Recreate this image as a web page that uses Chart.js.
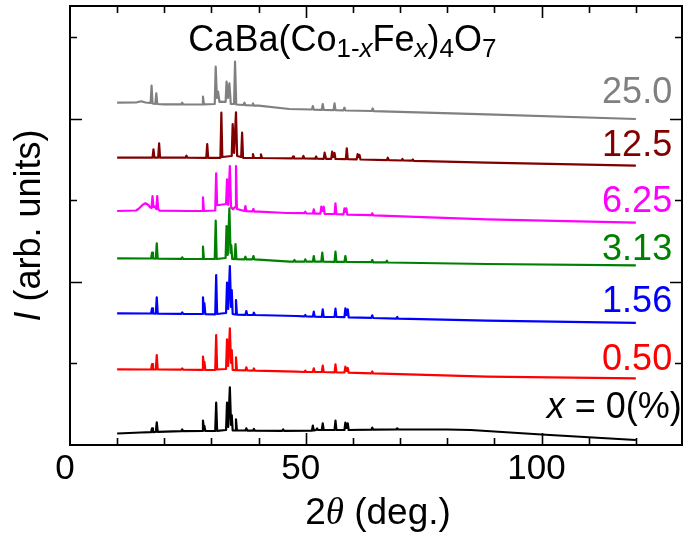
<!DOCTYPE html>
<html>
<head>
<meta charset="utf-8">
<script src="https://cdn.jsdelivr.net/npm/chart.js@4/dist/chart.umd.min.js"></script>
<style>
html,body{margin:0;padding:0;background:#fff;}
#wrap{position:relative;width:683px;height:535px;}
</style>
</head>
<body>
<div id="wrap"><canvas id="c"></canvas></div>
<script>
// ---- data: 2theta (deg.) vs intensity (arb. units, offset stacked) ----
const seriesNames = ["x = 0", "0.50", "1.56", "3.13", "6.25", "12.5", "25.0"];
const seriesColors = ["#000000", "#ff0000", "#0000ff", "#008000", "#ff00ff", "#800000", "#808080"];
const xTickLabels = [0, 50, 100];

const pattern_0 = [[10,11.5],[15,12.5],[17.2,12.8],[17.4,16.7],[17.6,12.9],[18.2,13],[18.4,22.7],[18.6,13.1],[23.6,13.8],[23.8,15.5],[24,13.8],[28,14],[28.2,24.3],[28.35,18],[28.5,19],[28.7,14],[30.8,14],[31,42.3],[31.2,14.2],[33.1,15],[33.3,42.3],[33.55,18],[33.9,57.7],[34.15,20],[34.3,30],[34.5,14.5],[35,14.5],[35.2,25.7],[35.4,14.5],[37.2,14.5],[37.4,16.7],[37.6,14.4],[38.8,14.4],[39,16],[39.2,14.3],[45,14.2],[45.2,15.5],[45.4,14.2],[51.3,14.3],[51.5,19.3],[51.7,14.5],[52.2,15],[52.4,16.5],[52.6,15],[53.4,15],[53.6,21.7],[53.8,15],[56.1,15],[56.3,24.3],[56.5,15],[58.2,15],[58.4,22.3],[58.65,17],[58.9,21.7],[59.1,15],[63.9,15.3],[64.1,17.3],[64.3,15.3],[69.2,15.5],[69.4,16.7],[69.6,15.5],[80,15.5],[85,15],[100,10.5],[120,5]];

const pattern_050 = [[10,75.7],[17.2,75.5],[17.4,81],[17.6,75.5],[18.2,75.5],[18.4,90],[18.6,75.5],[23.6,75.3],[23.8,76.7],[24,75.3],[28,75.1],[28.2,88.3],[28.35,82],[28.5,83],[28.7,75],[30.8,75],[31,110],[31.2,75.5],[33.1,76],[33.3,105.7],[33.55,79],[33.9,116.7],[34.15,82],[34.3,95],[34.5,75],[35,74.8],[35.2,87.7],[35.4,74.8],[37.2,74.6],[37.4,77.7],[37.6,74.5],[38.8,74.4],[39,76.5],[39.2,74.3],[48,73.3],[49.7,73],[49.9,74.3],[50.1,73],[51.5,73],[51.7,76.7],[51.9,73],[53.4,73],[53.6,79.3],[53.8,73],[56.1,72.7],[56.3,80.7],[56.5,72.7],[58.2,72.5],[58.4,78.3],[58.65,74],[58.9,77],[59.1,72.3],[63.9,71.7],[64.1,73.5],[64.3,71.6],[88.4,68.3],[120,66.6]];

const pattern_156 = [[10,131.7],[17.2,131.5],[17.4,136.7],[17.6,131.5],[18.2,131.4],[18.4,147.7],[18.6,131.4],[23.6,131.2],[23.8,132.5],[24,131.2],[28,131],[28.2,147.7],[28.35,138],[28.5,141.7],[28.7,130.8],[30.8,130.7],[31,170],[31.2,131],[33.1,132],[33.3,162.3],[33.55,136],[33.9,179],[34.15,138],[34.3,155],[34.5,131],[35,130.5],[35.2,145],[35.4,130.3],[37.2,130.2],[37.4,134],[37.6,130.1],[38.8,130],[39,132.3],[39.2,130],[48,129],[49.7,128.6],[49.9,130],[50.1,128.5],[51.5,128.4],[51.7,133.3],[51.9,128.4],[53.4,128.2],[53.6,135.7],[53.8,128.2],[56.1,128],[56.3,136.3],[56.5,128],[58.2,127.8],[58.4,136.7],[58.65,130],[58.9,135.7],[59.1,127.6],[63.9,127.1],[64.1,129.7],[64.3,127],[69.2,126.4],[69.4,128],[69.6,126.3],[88.4,124.3],[120,122.1]];

const pattern_313 = [[10,186.7],[17.2,186.5],[17.4,192.3],[17.6,186.5],[18.2,186.4],[18.4,201.7],[18.6,186.4],[23.6,186.2],[23.8,187.7],[24,186.2],[28,186],[28.2,198.3],[28.4,186],[30.7,186],[30.9,224.3],[31.1,186],[33,187],[33.2,219],[33.45,190],[33.8,236.7],[34.05,192],[34.2,200],[34.4,186],[34.9,185.8],[35.1,201],[35.3,185.8],[37,185.7],[37.2,188.3],[37.4,185.7],[38.7,185.7],[38.9,189],[39.1,185.6],[46.6,183.3],[47.4,183.4],[47.6,185],[47.8,183.4],[49.7,183.4],[49.9,185.7],[50.1,183.4],[51.5,183.4],[51.7,189],[51.9,183.4],[53.3,183.3],[53.5,192.3],[53.7,183.3],[56.1,183.2],[56.3,193.3],[56.5,183.2],[58.2,183.1],[58.4,189],[58.6,183.1],[63.9,182.8],[64.1,185],[64.3,182.7],[67,182.6],[67.2,184.3],[67.4,182.5],[88.4,181],[120,179.7]];

const pattern_625 = [[10,234],[14,234.5],[14.5,236],[15.5,240.5],[16,241.7],[16.6,240],[17,237.7],[17.3,237],[17.5,249],[17.7,238],[18,238.3],[18.3,236],[18.5,249],[18.7,236],[19,234.3],[25,234],[28,234],[28.2,247.7],[28.4,234],[30.8,234.5],[31,271.7],[31.2,240],[31.6,240],[33.1,241],[33.3,265.7],[33.55,240],[33.9,279],[34.15,238],[34.55,235.7],[35,238],[35.2,279],[35.4,236],[37,234],[37.2,239],[37.4,233.8],[38.7,233.6],[38.9,236],[39.1,233.4],[40,233.3],[46,232],[49.7,231.8],[49.9,233.3],[50.1,231.7],[51.5,231.5],[51.7,235.7],[51.9,231.4],[53.1,231.3],[53.3,238.3],[53.55,234],[53.8,238.3],[54,231.2],[56.1,231],[56.3,241.7],[56.5,230.9],[58,230.6],[58.2,236.7],[58.4,233],[58.6,236.7],[58.8,230.4],[63.9,229.8],[64.1,231.7],[64.3,229.7],[88.4,225.7],[120,222.3]];

const pattern_125 = [[10,287.3],[17.5,287.3],[17.7,295.7],[17.9,287.3],[18.7,287.3],[18.9,301.7],[19.1,287.3],[24.5,287.3],[24.7,289.3],[24.9,287.3],[28.9,287.2],[29.1,301],[29.3,287.2],[31.9,287.2],[32.1,332.3],[32.3,288],[34.3,289],[34.5,321],[34.8,292],[35.2,332.7],[35.45,289],[36.3,288],[36.5,312.3],[36.7,287.2],[38.6,287],[38.8,291],[39,287],[40.3,287],[40.5,290.7],[40.7,287],[47.1,286.6],[47.3,288.5],[47.5,286.6],[49.3,286.5],[49.5,289],[49.7,286.5],[52,286.3],[52.2,288.5],[52.4,286.3],[53.8,286.2],[54,292.3],[54.3,286.2],[55.4,286.1],[55.6,293.3],[55.85,288],[56.1,292],[56.3,286],[58.5,285.8],[58.7,296.7],[58.9,285.8],[60.8,285.6],[61,291],[61.2,288],[61.4,290],[61.6,285.5],[67.2,284.8],[67.4,287.3],[67.6,284.8],[70.3,284.5],[70.5,286],[70.7,284.5],[72.5,284.3],[72.7,285.5],[72.9,284.2],[88.4,282.3],[120,279.3]];

const pattern_250 = [[10,342.3],[14,342.5],[15.1,343.7],[16,342.5],[17.1,342],[17.3,359.3],[17.5,341.5],[18.1,341.2],[18.3,351.7],[18.5,341],[20,340.7],[23.6,340.6],[23.8,342.3],[24,340.5],[28,340.5],[28.2,348.3],[28.4,340.6],[30.7,341],[30.9,378.3],[31.15,347],[31.4,353.3],[31.7,343],[32,343.3],[33,343],[33.2,363.3],[33.5,347],[33.8,361.7],[34.1,341],[34.8,341],[35,383.3],[35.25,340.5],[36.8,340],[37,342.3],[37.2,339.8],[38.6,339.5],[38.8,341.7],[39,339.4],[40,339.3],[46.5,336],[51.3,335.5],[51.5,339],[51.7,335.4],[53.4,335.2],[53.6,341],[53.8,335.1],[55.9,334.9],[56.1,341.7],[56.3,334.8],[58,334.6],[58.2,337.3],[58.4,334.5],[64,334],[64.2,336.5],[64.4,333.9],[88.4,330.7],[120,326]];

const patterns = [pattern_0, pattern_050, pattern_156, pattern_313, pattern_625, pattern_125, pattern_250];

// ---- axes ----
const X_MIN = 0, X_MAX = 130, X_MINOR = 10, X_MAJOR = 50;
const Y_MIN = 0, Y_MAX = 439, Y_TICK = 81.6;

const FONT = '"Liberation Sans", Arial, Helvetica, sans-serif';
const SERIF = '"Liberation Serif", "Times New Roman", serif';

// label anchors in data coordinates (x in deg, y in arb. units)
const seriesLabels = [
  {text: [{t: "x", i: true}, {t: " = 0(%)"}], x: 101.1, y: 27, align: "left", color: "#000000"},
  {text: [{t: "0.50"}], x: 127.7, y: 75, align: "right", color: "#ff0000"},
  {text: [{t: "1.56"}], x: 127.7, y: 133, align: "right", color: "#0000ff"},
  {text: [{t: "3.13"}], x: 127.7, y: 185, align: "right", color: "#008000"},
  {text: [{t: "6.25"}], x: 127.7, y: 233, align: "right", color: "#ff00ff"},
  {text: [{t: "12.5"}], x: 127.7, y: 289, align: "right", color: "#800000"},
  {text: [{t: "25.0"}], x: 127.7, y: 342, align: "right", color: "#808080"}
];

function segFont(s, size) {
  const sz = s.sub ? Math.round(size * 0.72) : size;
  return (s.i ? 'italic ' : '') + sz + 'px ' + (s.serif ? SERIF : FONT);
}
function segWidth(ctx, segs, size) {
  let w = 0;
  for (const s of segs) { ctx.font = segFont(s, size); w += ctx.measureText(s.t).width; }
  return w;
}
function drawSegs(ctx, segs, x, y, size, align) {
  let cx = x;
  const w = segWidth(ctx, segs, size);
  if (align === 'right') cx = x - w;
  else if (align === 'center') cx = x - w / 2;
  ctx.textBaseline = 'alphabetic';
  ctx.textAlign = 'left';
  for (const s of segs) {
    ctx.font = segFont(s, size);
    ctx.fillText(s.t, cx, y + (s.sub ? size * 0.17 : 0));
    cx += ctx.measureText(s.t).width;
  }
}

const decor = {
  id: 'decor',
  afterDatasetsDraw(chart) {
    const {ctx, chartArea: a, scales: {x, y}} = chart;
    ctx.save();
    ctx.strokeStyle = '#000';
    ctx.lineWidth = 2;
    const R = a.right - 1;
    ctx.beginPath();
    ctx.rect(a.left, a.top, R - a.left, a.bottom - a.top);
    ctx.stroke();
    // x ticks (bottom & top, inward)
    ctx.lineWidth = 1.6;
    ctx.beginPath();
    for (let v = X_MIN + X_MINOR; v < X_MAX; v += X_MINOR) {
      const px = Math.round(x.getPixelForValue(v)) + 0.5;
      const len = (v % X_MAJOR === 0) ? 12 : 7;
      ctx.moveTo(px, a.bottom); ctx.lineTo(px, a.bottom - len);
      ctx.moveTo(px, a.top); ctx.lineTo(px, a.top + len);
    }
    // y ticks (left & right, inward)
    for (let k = 1; k * Y_TICK < Y_MAX; k++) {
      const py = Math.round(y.getPixelForValue(k * Y_TICK)) + 0.5;
      const len = (k % 2 === 0) ? 12 : 7;
      ctx.moveTo(a.left, py); ctx.lineTo(a.left + len, py);
      ctx.moveTo(R, py); ctx.lineTo(R - len, py);
    }
    ctx.stroke();

    ctx.fillStyle = '#000';
    // title (formula)
    const title = [{t: "CaBa(Co"}, {t: "1-", sub: true}, {t: "x", sub: true, i: true}, {t: "Fe"}, {t: "x", sub: true, i: true}, {t: ")"}, {t: "4", sub: true}, {t: "O"}, {t: "7", sub: true}];
    drawSegs(ctx, title, x.getPixelForValue(25.1), y.getPixelForValue(394.5), 36, 'left');

    // series labels
    for (const L of seriesLabels) {
      ctx.fillStyle = L.color;
      drawSegs(ctx, L.text, x.getPixelForValue(L.x), y.getPixelForValue(L.y), 36, L.align);
    }

    // axis titles
    ctx.fillStyle = '#000';
    const xTitle = [{t: "2"}, {t: "\u03B8", i: true, serif: true}, {t: " (deg.)"}];
    drawSegs(ctx, xTitle, (a.left + R) / 2 + 2, chart.height - 11, 37, 'center');

    ctx.translate(a.left - 30.5, (a.top + a.bottom) / 2);
    ctx.rotate(-Math.PI / 2);
    const yTitle = [{t: "I", i: true}, {t: " (arb. units)"}];
    drawSegs(ctx, yTitle, 0, 0, 36, 'center');
    ctx.restore();
  }
};

const datasets = patterns.map((p, i) => ({
  label: seriesNames[i],
  data: p.map(([a, b]) => ({x: a, y: b})),
  borderColor: seriesColors[i],
  backgroundColor: seriesColors[i],
  borderWidth: 2.2,
  pointRadius: 0,
  showLine: true,
  tension: 0,
  borderJoinStyle: 'round',
  fill: false
}));

new Chart(document.getElementById('c'), {
  type: 'scatter',
  data: {datasets},
  options: {
    responsive: true,
    maintainAspectRatio: false,
    animation: false,
    events: [],
    layout: {padding: {left: 70, right: 0, top: 6, bottom: 0}},
    plugins: {legend: {display: false}, tooltip: {enabled: false}, title: {display: false}},
    scales: {
      x: {
        type: 'linear', min: X_MIN, max: X_MAX,
        grid: {display: false, drawTicks: false},
        border: {display: false},
        ticks: {
          stepSize: X_MAJOR, includeBounds: false, padding: 3, labelOffset: -5,
          color: '#000', font: {family: FONT, size: 35},
          callback: v => xTickLabels.includes(v) ? String(v) : ''
        },
        afterFit(s) { s.height = 90; s.paddingLeft = 0; s.paddingRight = 0; }
      },
      y: {type: 'linear', min: Y_MIN, max: Y_MAX, display: false}
    }
  },
  plugins: [decor]
});
</script>
</body>
</html>
